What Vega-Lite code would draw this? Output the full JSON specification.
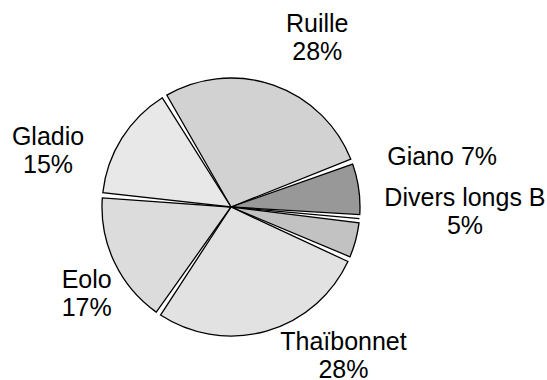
{
  "$schema": "https://vega.github.io/schema/vega-lite/v6.json",
  "autosize": "none",
  "width": 462,
  "height": 346,
  "padding": {"left": 0, "top": 34, "right": 85, "bottom": 0},
  "background": "white",
  "config": {"view": {"stroke": null}, "text": {"font": "Liberation Sans", "fontSize": 25, "lineHeight": 28, "fill": "#000000"}},
  "data": {"values": [
    {"idx": 1, "category": "Ruille", "value": 28, "label": "Ruille\n28%"},
    {"idx": 2, "category": "Giano", "value": 7, "label": "Giano 7%"},
    {"idx": 3, "category": "Autre", "value": 0.4, "label": ""},
    {"idx": 4, "category": "Divers longs B", "value": 5, "label": "Divers longs B\n5%"},
    {"idx": 5, "category": "Thaïbonnet", "value": 28, "label": "Thaïbonnet\n28%"},
    {"idx": 6, "category": "Eolo", "value": 17, "label": "Eolo\n17%"},
    {"idx": 7, "category": "Gladio", "value": 15, "label": "Gladio\n15%"}
  ]},
  "encoding": {
    "theta": {"field": "value", "type": "quantitative", "stack": true, "scale": {"range": [-0.541, 5.742]}},
    "order": {"field": "idx", "type": "quantitative"}
  },
  "layer": [
    {
      "mark": {"type": "arc", "outerRadius": 129, "padAngle": 0.04, "stroke": "#000000", "strokeWidth": 1.3},
      "encoding": {
        "color": {"field": "category", "type": "nominal", "legend": null,
          "scale": {"domain": ["Ruille", "Giano", "Autre", "Divers longs B", "Thaïbonnet", "Eolo", "Gladio"],
                    "range": ["#d2d2d2", "#989898", "#404040", "#c2c2c2", "#e2e2e2", "#dcdcdc", "#e8e8e8"]}}
      }
    },
    {"mark": {"type": "text", "radius": 190, "thetaOffset": 0.136, "dy": -14, "baseline": "middle", "align": "center", "lineBreak": "\n"}, "encoding": {"text": {"condition": {"test": "datum.category == 'Ruille'", "field": "label"}, "value": ""}}},
    {"mark": {"type": "text", "radius": 217, "thetaOffset": -0.093, "baseline": "middle", "align": "center", "lineBreak": "\n"}, "encoding": {"text": {"condition": {"test": "datum.category == 'Giano'", "field": "label"}, "value": ""}}},
    {"mark": {"type": "text", "radius": 234, "thetaOffset": -0.281, "dy": -4, "baseline": "middle", "align": "center", "lineBreak": "\n"}, "encoding": {"text": {"condition": {"test": "datum.category == 'Divers longs B'", "field": "label"}, "value": ""}}},
    {"mark": {"type": "text", "radius": 187, "thetaOffset": -0.367, "dy": -14, "baseline": "middle", "align": "center", "lineBreak": "\n"}, "encoding": {"text": {"condition": {"test": "datum.category == 'Thaïbonnet'", "field": "label"}, "value": ""}}},
    {"mark": {"type": "text", "radius": 169, "thetaOffset": -0.106, "dy": -15, "baseline": "middle", "align": "center", "lineBreak": "\n"}, "encoding": {"text": {"condition": {"test": "datum.category == 'Eolo'", "field": "label"}, "value": ""}}},
    {"mark": {"type": "text", "radius": 191, "thetaOffset": -0.269, "dy": -15, "baseline": "middle", "align": "center", "lineBreak": "\n"}, "encoding": {"text": {"condition": {"test": "datum.category == 'Gladio'", "field": "label"}, "value": ""}}}
  ]
}
